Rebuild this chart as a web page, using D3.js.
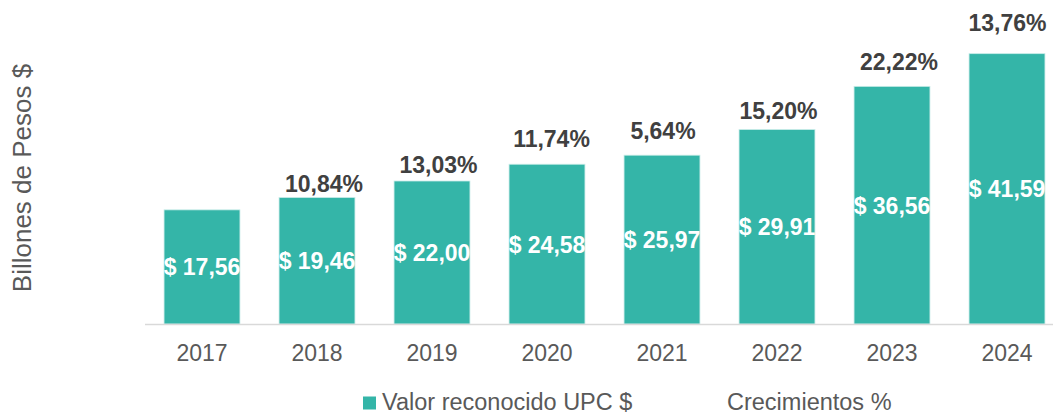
<!DOCTYPE html>
<html>
<head>
<meta charset="utf-8">
<script src="https://cdn.jsdelivr.net/npm/d3@7"></script>
<style>
  html, body { margin: 0; padding: 0; background: #fff; }
  svg { display: block; font-family: "Liberation Sans", Arial, sans-serif; }
</style>
</head>
<body>
<svg id="chart" width="1053" height="415"></svg>
<script>
// ---- data ----
const years = ["2017", "2018", "2019", "2020", "2021", "2022", "2023", "2024"];
const valorUPC = [17.56, 19.46, 22.00, 24.58, 25.97, 29.91, 36.56, 41.59];
const crecimientos = [null, 10.84, 13.03, 11.74, 5.64, 15.20, 22.22, 13.76];
const seriesNames = ["Valor reconocido UPC $", "Crecimientos %"];
const yTitle = "Billones de Pesos $";

// ---- layout (label placement tweaks, px) ----
const pctLift = [0, 6, 8, 17.5, 16.5, 10.5, 16, 23];
const pctShift = [0, 7, 6.5, 4.5, 1, 1.5, 7, 0.5];

const teal = "#34b5a8";
const svg = d3.select("#chart");

const x = d3.scaleBand().domain(years).range([144.5, 1064.5])
  .paddingInner(0.34).paddingOuter(0.17);
const y = d3.scaleLinear().domain([0, 50]).range([324, -1]);

const fmt = v => v.toFixed(2).replace(".", ",");

// bars
svg.append("g").selectAll("rect").data(years).join("rect")
  .attr("x", d => x(d))
  .attr("y", (d, i) => y(valorUPC[i]))
  .attr("width", x.bandwidth())
  .attr("height", (d, i) => y(0) - y(valorUPC[i]))
  .attr("fill", teal)
  .attr("stroke", "#c8ece8")
  .attr("stroke-width", 0.8);

// axis
const xAxis = svg.append("g").attr("transform", `translate(0,${y(0)})`)
  .call(d3.axisBottom(x).tickSize(0).tickPadding(0));
xAxis.select(".domain").attr("d", "M145,0.5H1053").attr("stroke", "#d9d9d9").attr("stroke-width", 1.5);
xAxis.selectAll("text")
  .attr("y", 37).attr("dy", null)
  .attr("font-size", "23px").attr("fill", "#595959")
  .attr("font-family", "'Liberation Sans', Arial, sans-serif");

// value labels inside bars
svg.append("g").selectAll("text").data(years).join("text")
  .attr("x", d => x(d) + x.bandwidth() / 2)
  .attr("y", (d, i) => (y(valorUPC[i]) + y(0)) / 2 + 8.5)
  .attr("text-anchor", "middle")
  .attr("font-size", "23px").attr("font-weight", "bold").attr("fill", "#ffffff")
  .text((d, i) => "$ " + fmt(valorUPC[i]));

// growth labels above bars
svg.append("g").selectAll("text").data(years.filter((d, i) => crecimientos[i] != null)).join("text")
  .attr("x", d => { const i = years.indexOf(d); return x(d) + x.bandwidth() / 2 + pctShift[i]; })
  .attr("y", d => { const i = years.indexOf(d); return y(valorUPC[i]) - pctLift[i]; })
  .attr("text-anchor", "middle")
  .attr("font-size", "23px").attr("font-weight", "bold").attr("fill", "#404040")
  .text(d => fmt(crecimientos[years.indexOf(d)]) + "%");

// y title
svg.append("text")
  .attr("transform", "translate(31,178) rotate(-90)")
  .attr("text-anchor", "middle")
  .attr("font-size", "26px").attr("fill", "#595959")
  .text(yTitle);

// legend
const lg = svg.append("g");
lg.append("rect").attr("x", 363).attr("y", 396.5).attr("width", 13).attr("height", 13).attr("fill", teal);
lg.append("text").attr("x", 382).attr("y", 410)
  .attr("font-size", "23.5px").attr("fill", "#595959").text(seriesNames[0]);
lg.append("text").attr("x", 727).attr("y", 410)
  .attr("font-size", "23.5px").attr("fill", "#595959").text(seriesNames[1]);
</script>
</body>
</html>
